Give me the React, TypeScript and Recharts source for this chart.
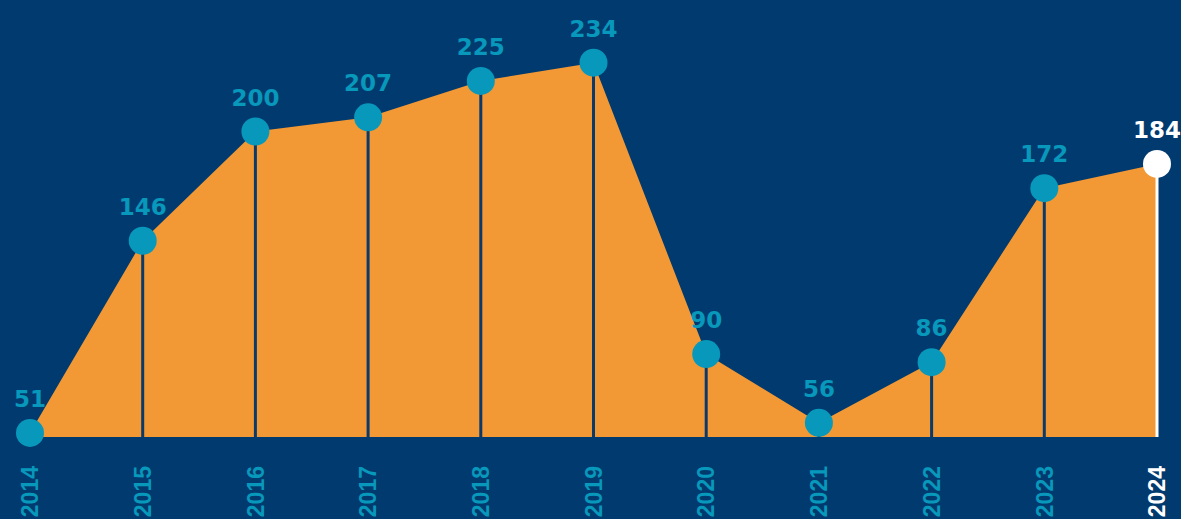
import { AreaChart, Area, XAxis, YAxis, LabelList } from "recharts";

const years = ["2014", "2015", "2016", "2017", "2018", "2019", "2020", "2021", "2022", "2023", "2024"];
const counts = [51, 146, 200, 207, 225, 234, 90, 56, 86, 172, 184];

const data = years.map((year, i) => ({ year, count: counts[i] }));

const W = 1181;
const H = 519;
const MARGIN = { top: 0, right: 24, left: 30, bottom: 0 };
const XAXIS_H = 82;
const BASE_Y = H - MARGIN.bottom - XAXIS_H;

const BG = "#013a6e";
const ORANGE = "#f29834";
const TEAL = "#0798bb";
const LINE = "#0b3a6a";
const FONT = "'Liberation Sans', Arial, sans-serif";
const VALUE_FONT = "'DejaVu Sans', sans-serif";

const lastIdx = years.length - 1;

const Marker = (props: any) => {
    const { x, y, value, index } = props;
    const last = index === lastIdx;
    return (
        <g>
            <line x1={x} x2={x} y1={y} y2={BASE_Y} stroke={last ? "#fff" : LINE} strokeWidth={3} />
            <circle cx={x} cy={y} r={14} fill={last ? "#fff" : TEAL} />
            <text
                x={x}
                y={y - 26}
                textAnchor="middle"
                fill={last ? "#fff" : TEAL}
                fontFamily={VALUE_FONT}
                fontWeight={700}
                fontSize={23}
            >
                {value}
            </text>
        </g>
    );
};

const YearTick = (props: any) => {
    const { x, y, payload, index } = props;
    const last = index === lastIdx;
    return (
        <text
            transform={`translate(${x},${y + 29}) rotate(-90)`}
            textAnchor="end"
            dy="0.36em"
            fill={last ? "#fff" : TEAL}
            fontFamily={FONT}
            fontWeight={700}
            fontSize={23}
        >
            {payload.value}
        </text>
    );
};

export default function App() {
    return (
        <div style={{ position: "absolute", left: 0, top: 0, width: W, height: H, background: BG, overflow: "hidden" }}>
            <AreaChart width={W} height={H} data={data} margin={MARGIN}>
                <XAxis
                    dataKey="year"
                    height={XAXIS_H}
                    axisLine={false}
                    tickLine={false}
                    tickSize={0}
                    tickMargin={0}
                    interval={0}
                    tick={<YearTick />}
                />
                <YAxis hide domain={[49, 265]} />
                <Area
                    type="linear"
                    dataKey="count"
                    fill={ORANGE}
                    fillOpacity={1}
                    stroke="none"
                    dot={false}
                    activeDot={false}
                    isAnimationActive={false}
                >
                    <LabelList dataKey="count" content={<Marker />} />
                </Area>
            </AreaChart>
        </div>
    );
}
